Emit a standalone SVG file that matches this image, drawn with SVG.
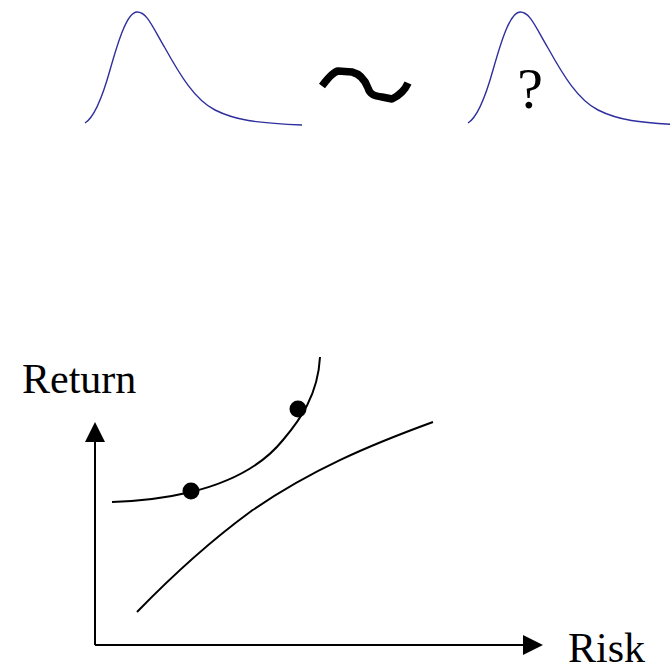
<svg xmlns="http://www.w3.org/2000/svg" width="670" height="668" viewBox="0 0 670 668">
<defs>
<style>
.bell{fill:none;stroke:#2e2e9e;stroke-width:1.4}
.ln{fill:none;stroke:#000;stroke-width:2}
.lbl{font-family:"Liberation Serif","Times New Roman",serif;fill:#000}
</style>
<path id="bellShape" class="bell" d="M85,123 C95,117 103,95 110,70 C118,42 127,12 137,12 C147,12 152,26 165,48 C180,75 195,100 215,110 C235,120 255,123 302,125"/>
</defs>
<rect width="670" height="668" fill="#fff"/>
<g id="bell-left"><use href="#bellShape"/></g>
<g id="tilde"><path d="M322,86 C328,78 333,72 338,71 L352,72 C360,74 365,80 368,88 C370,95 375,96 382,97 L392,99 C400,95 405,90 408,83" fill="none" stroke="#000" stroke-width="7.5" stroke-linejoin="round"/></g>
<g id="bell-right"><use href="#bellShape" transform="translate(383,0)"/>
<text class="lbl" x="530" y="108" font-size="58" text-anchor="middle">?</text></g>
<g id="axes">
<path class="ln" d="M95,645 V440 M95,645 H525"/>
<polygon points="95,422 85,442 105,442" fill="#000"/>
<polygon points="543,645 523,635 523,655" fill="#000"/>
</g>
<g id="labels">
<text class="lbl" x="22" y="393" font-size="42">Return</text>
<text class="lbl" x="568" y="662" font-size="42">Risk</text>
</g>
<g id="connectors">
<path class="ln" d="M112,502 C145,501 170,497 191,492 C228,483 262,466 283,440 C300,420 318,395 320,357"/>
<path class="ln" d="M137,612 C170,578 205,545 250,512 C310,470 370,445 433,422"/>
</g>
<g id="dots">
<circle cx="191" cy="491" r="8.5" fill="#000"/>
<circle cx="298" cy="409" r="8.5" fill="#000"/>
</g>
</svg>
